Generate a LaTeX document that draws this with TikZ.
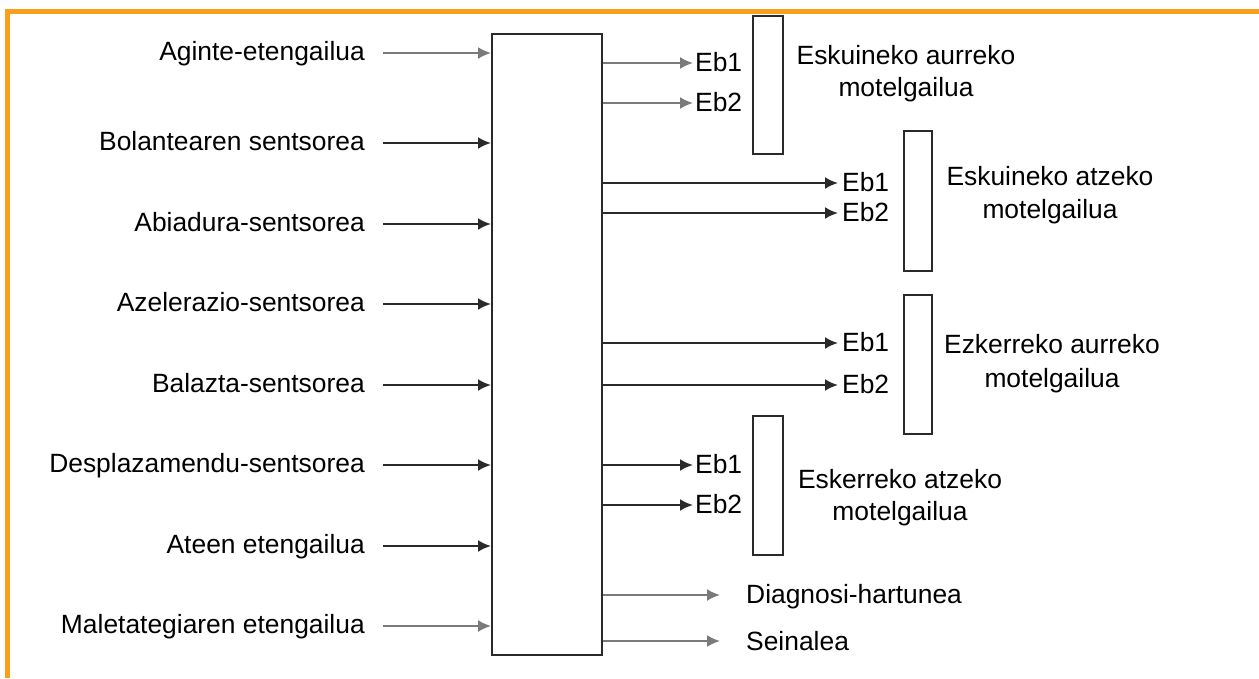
\documentclass[tikz,border=0pt]{standalone}
\usepackage{fontspec}
\setmainfont{Liberation Sans}
\usetikzlibrary{arrows.meta}
\definecolor{frameorange}{HTML}{F8A01C}
\definecolor{darkline}{HTML}{2A2A2A}
\definecolor{lightline}{HTML}{7A7A7A}
\begin{document}
\begin{tikzpicture}[x=1pt,y=-1pt,
  lbl/.style={inner sep=0pt,font=\fontsize{26.4}{30}\selectfont},
  inlbl/.style={lbl,anchor=base east},
  outlbl/.style={lbl,anchor=base west},
  motlbl/.style={lbl,anchor=base},
  tip/.style={-{Latex[length=13pt,width=12pt]}},
  arr/.style={draw=darkline,line width=2.2pt,tip},
  larr/.style={draw=lightline,line width=2pt,tip},
  blk/.style={draw=darkline,line width=2.2pt,fill=white,inner sep=0pt,anchor=north west},
]
\useasboundingbox (0,0) rectangle (1259,678);
\fill[white] (0,0) rectangle (1259,678);
% orange frame (top and left)
\draw[frameorange,line width=5pt] (7.5,678) -- (7.5,11.5) -- (1259,11.5);

% main control unit
\node[blk,minimum width=110pt,minimum height=621pt] (ecu) at (491,33) {};

% inputs
\foreach \i/\y/\t/\s in {1/53/Aginte-etengailua/larr,
                         2/143/Bolantearen sentsorea/arr,
                         3/224/Abiadura-sentsorea/arr,
                         4/304/Azelerazio-sentsorea/arr,
                         5/385/Balazta-sentsorea/arr,
                         6/465/Desplazamendu-sentsorea/arr,
                         7/546/Ateen etengailua/arr,
                         8/626/Maletategiaren etengailua/larr}{
  \node[inlbl] (in\i) at (365,\y+7) {\t};
  \coordinate (s\i) at (383,\y);
  \draw[\s] (s\i) -- (s\i -| ecu.west);
}

% damper boxes
\node[blk,minimum width=30pt,minimum height=138pt] (m1) at (752,15) {};
\node[blk,minimum width=28pt,minimum height=140pt] (m2) at (903,130) {};
\node[blk,minimum width=28pt,minimum height=139pt] (m3) at (903,294) {};
\node[blk,minimum width=30pt,minimum height=139pt] (m4) at (752,415) {};

% outputs Eb
\foreach \n/\y/\xe/\s in {a/63/693/larr, b/103/693/larr,
                          c/183/838/arr, d/213/838/arr,
                          e/343/838/arr, f/385/838/arr,
                          g/465/693/arr, h/505/693/arr}{
  \coordinate (t\n) at (\xe,\y);
  \draw[\s] (t\n -| ecu.east) -- (t\n);
}
\node[outlbl] (eba) at (695,71) {Eb1};
\node[outlbl] (ebb) at (695,111) {Eb2};
\node[outlbl] (ebc) at (842,191) {Eb1};
\node[outlbl] (ebd) at (842,221) {Eb2};
\node[outlbl] (ebe) at (842,351) {Eb1};
\node[outlbl] (ebf) at (842,393) {Eb2};
\node[outlbl] (ebg) at (695,473) {Eb1};
\node[outlbl] (ebh) at (695,513) {Eb2};

% damper labels
\node[motlbl] (n1a) at (906,64) {Eskuineko aurreko};
\node[motlbl] (n1b) at (906,96) {motelgailua};
\node[motlbl] (n2a) at (1050,185) {Eskuineko atzeko};
\node[motlbl] (n2b) at (1050,218) {motelgailua};
\node[motlbl] (n3a) at (1052,353) {Ezkerreko aurreko};
\node[motlbl] (n3b) at (1052,387) {motelgailua};
\node[motlbl] (n4a) at (900,488) {Eskerreko atzeko};
\node[motlbl] (n4b) at (900,520) {motelgailua};

% diagnosis and signal
\coordinate (td) at (720,595);
\coordinate (ts) at (720,641);
\draw[larr] (td -| ecu.east) -- (td);
\draw[larr] (ts -| ecu.east) -- (ts);
\node[outlbl] (diag) at (746,603) {Diagnosi-hartunea};
\node[outlbl] (sein) at (746,650) {Seinalea};
\end{tikzpicture}
\end{document}
